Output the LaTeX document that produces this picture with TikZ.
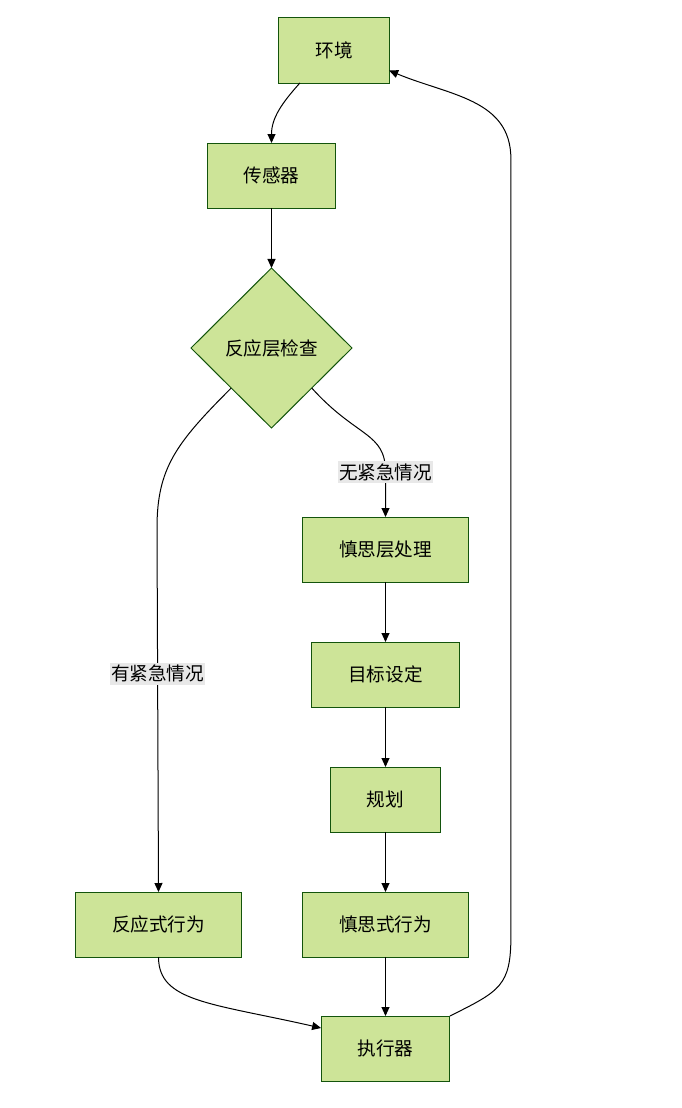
\documentclass[tikz,border=0pt]{standalone}
\usepackage{fontspec}
\setmainfont{Noto Sans CJK SC}
\usepackage{xcolor}
\usetikzlibrary{arrows.meta,shapes.geometric,positioning}

\definecolor{boxfill}{HTML}{CDE498}
\definecolor{boxline}{HTML}{13540C}
\definecolor{labelbg}{HTML}{E8E8E8}

\begin{document}
\begin{tikzpicture}[x=1pt,y=1pt,
  >={Triangle[length=9pt,width=8pt]},
  every path/.style={line width=1pt},
  stufe/.style={
  % The shape:
  rectangle,
  outer sep=0pt,
  % The size:
  minimum height=65pt,
  inner xsep=36.5pt,
  % The border:
  draw=boxline,
  % The filling:
  fill=boxfill,
  % Font
  font=\fontsize{18.6}{22}\selectfont
  },
  pruefung/.style={
  % The shape:
  diamond,
  aspect=1,
  inner sep=0pt,
  outer sep=0pt,
  % The size:
  minimum width=161pt,
  minimum height=160pt,
  % The border:
  draw=boxline,
  % The filling:
  fill=boxfill,
  font=\fontsize{18.6}{22}\selectfont
  },
  etikett/.style={
  fill=labelbg,
  inner xsep=1pt,
  inner ysep=2.5pt,
  font=\fontsize{18.6}{22}\selectfont
  }]
  \useasboundingbox (0,0) rectangle (681,-1108);

  \node (env) [stufe] at (334,-50.5) {环境};
  \node (sensor) [stufe,below=60pt of env,xshift=-62.5pt] {传感器};
  \node (check) [pruefung,below=60pt of sensor] {反应层检查};

  \node (delib) [stufe,below=89pt of check,xshift=114pt] {慎思层处理};
  \node (goal) [stufe,below=60pt of delib] {目标设定};
  \node (plan) [stufe,below=60pt of goal] {规划};
  \node (dact) [stufe,below=60pt of plan] {慎思式行为};
  \node (ract) [stufe,left=61pt of dact] {反应式行为};
  \node (actuator) [stufe,below=59pt of dact] {执行器};

  \draw[->] ([xshift=21pt]env.south west) .. controls +(-18,-20) and +(0,25) .. (sensor.north);
  \draw[->] (sensor) to (check);

  \draw[->] (check.south west) .. controls +(-55,-55) and +(0,60) .. ++(-74.25,-140)
    -- node[etikett,pos=0.4] {有紧急情况} (ract.north);
  \draw[->] (check.south east) .. controls +(45,-50) and +(0,40) .. ++(73.75,-84)
    node[etikett] {无紧急情况} -- (delib.north);

  \draw[->] (delib) to (goal);
  \draw[->] (goal) to (plan);
  \draw[->] (plan) to (dact);
  \draw[->] (dact) to (actuator);

  \draw[->] (ract.south) .. controls +(0,-45) and +(-110,25) .. ([yshift=-12pt]actuator.north west);
  \draw[->] (actuator.north east) .. controls +(50,25) and +(0,-50) .. ++(61,80)
    -- ++(0,777) .. controls +(0,60) and +(60,-25) .. ([yshift=-20pt]env.east);
\end{tikzpicture}
\end{document}
